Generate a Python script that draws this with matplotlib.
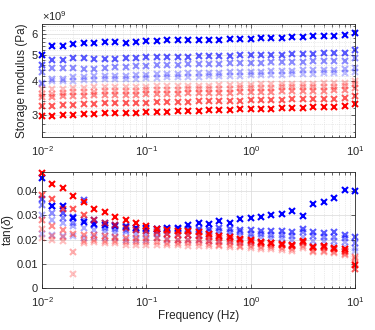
import numpy as np
import matplotlib
matplotlib.use("Agg")
import matplotlib.pyplot as plt
from matplotlib.ticker import FixedLocator, FuncFormatter, LogLocator, NullFormatter

plt.rcParams["font.family"] = ["Liberation Sans", "DejaVu Sans"]
plt.rcParams["mathtext.fontset"] = "custom"
plt.rcParams["mathtext.rm"] = "Liberation Sans"
plt.rcParams["mathtext.it"] = "Liberation Sans:italic"

# Frequencies (Hz), 10 points per decade
freq = [0.01, 0.0126, 0.0158, 0.02, 0.0251, 0.0316, 0.0398, 0.0501, 0.0631, 0.0794,
        0.1, 0.126, 0.158, 0.2, 0.251, 0.316, 0.398, 0.501, 0.631, 0.794,
        1.0, 1.26, 1.58, 2.0, 2.51, 3.16, 3.98, 5.01, 6.31, 7.94, 10.0]

# Storage modulus (x1e9 Pa), from blue (top) to red (bottom)
g_b1 = [5.0, 5.4, 5.4, 5.5, 5.55, 5.55, 5.6, 5.6, 5.55, 5.58, 5.62, 5.65, 5.66, 5.66, 5.67, 5.68,
        5.68, 5.70, 5.72, 5.72, 5.75, 5.76, 5.78, 5.80, 5.82, 5.84, 5.86, 5.88, 5.90, 5.92, 6.02]
g_b2 = [4.6, 4.8, 4.8, 4.87, 4.87, 4.85, 4.83, 4.85, 4.87, 4.88, 4.9, 4.92, 4.93, 4.93, 4.94, 4.95,
        4.96, 4.97, 4.98, 4.99, 5.0, 5.0, 5.01, 5.02, 5.03, 5.04, 5.06, 5.07, 5.08, 5.1, 5.2]
g_b3 = [4.35, 4.5, 4.5, 4.5, 4.43, 4.45, 4.5, 4.52, 4.53, 4.55, 4.57, 4.6, 4.6, 4.61, 4.62, 4.63,
        4.64, 4.65, 4.66, 4.67, 4.68, 4.69, 4.7, 4.71, 4.72, 4.73, 4.74, 4.75, 4.76, 4.77, 4.86]
g_b4 = [3.95, 4.1, 4.1, 4.15, 4.15, 4.18, 4.2, 4.2, 4.2, 4.22, 4.24, 4.25, 4.26, 4.27, 4.28, 4.29,
        4.3, 4.31, 4.32, 4.33, 4.34, 4.35, 4.36, 4.37, 4.38, 4.39, 4.4, 4.41, 4.42, 4.44, 4.5]
g_b5 = [3.9, 4.0, 4.0, 4.03, 4.05, 4.06, 4.08, 4.08, 4.1, 4.1, 4.12, 4.13, 4.14, 4.15, 4.16, 4.17,
        4.18, 4.19, 4.2, 4.2, 4.21, 4.22, 4.23, 4.24, 4.25, 4.26, 4.27, 4.28, 4.29, 4.3, 4.35]
g_r5 = [3.75, 3.75, 3.75, 3.78, 3.78, 3.8, 3.8, 3.8, 3.82, 3.82, 3.83, 3.84, 3.84, 3.85, 3.85, 3.86,
        3.86, 3.87, 3.88, 3.88, 3.89, 3.9, 3.9, 3.91, 3.92, 3.92, 3.93, 3.94, 3.94, 3.95, 4.0]
g_r4 = [3.6, 3.6, 3.62, 3.65, 3.65, 3.67, 3.68, 3.68, 3.7, 3.7, 3.71, 3.72, 3.72, 3.73, 3.74, 3.74,
        3.75, 3.76, 3.76, 3.77, 3.78, 3.78, 3.79, 3.8, 3.8, 3.81, 3.82, 3.82, 3.83, 3.84, 3.9]
g_r3 = [3.5, 3.52, 3.53, 3.55, 3.55, 3.56, 3.57, 3.57, 3.58, 3.58, 3.59, 3.6, 3.6, 3.61, 3.62, 3.62,
        3.63, 3.64, 3.64, 3.65, 3.66, 3.66, 3.67, 3.68, 3.68, 3.69, 3.7, 3.7, 3.71, 3.72, 3.78]
g_r2 = [3.25, 3.25, 3.27, 3.28, 3.3, 3.3, 3.32, 3.32, 3.33, 3.34, 3.34, 3.35, 3.36, 3.36, 3.37, 3.38,
        3.38, 3.39, 3.4, 3.4, 3.41, 3.42, 3.42, 3.43, 3.44, 3.44, 3.45, 3.46, 3.46, 3.48, 3.55]
g_r1 = [2.98, 2.98, 3.0, 3.02, 3.03, 3.04, 3.05, 3.06, 3.06, 3.07, 3.08, 3.09, 3.1, 3.11, 3.11, 3.12,
        3.13, 3.14, 3.15, 3.16, 3.17, 3.18, 3.18, 3.19, 3.2, 3.2, 3.21, 3.22, 3.23, 3.24, 3.3]

# tan(delta), same series order
t_b1 = [0.0455, 0.034, 0.034, 0.0288, 0.0275, 0.0265, 0.0262, 0.0258, 0.0252, 0.025, 0.025, 0.0245,
        0.0248, 0.025, 0.0261, 0.0268, 0.0266, 0.0276, 0.027, 0.0285, 0.0288, 0.0292, 0.030, 0.0307,
        0.032, 0.0296, 0.0346, 0.0357, 0.0372, 0.0407, 0.040]
t_b2 = [0.037, 0.034, 0.031, 0.0295, 0.0365, 0.028, 0.027, 0.026, 0.0255, 0.025, 0.0245, 0.0245,
        0.0245, 0.0245, 0.0245, 0.0245, 0.0245, 0.025, 0.0245, 0.024, 0.024, 0.0235, 0.0235, 0.0235,
        0.023, 0.0245, 0.023, 0.0228, 0.0232, 0.022, 0.0213]
t_b3 = [0.0345, 0.031, 0.029, 0.027, 0.028, 0.026, 0.025, 0.0245, 0.024, 0.024, 0.0235, 0.0235,
        0.0235, 0.0235, 0.0235, 0.0235, 0.0235, 0.0235, 0.023, 0.023, 0.0225, 0.0225, 0.022, 0.022,
        0.0215, 0.023, 0.0215, 0.021, 0.021, 0.0205, 0.0185]
t_b4 = [0.030, 0.028, 0.027, 0.0255, 0.025, 0.024, 0.0235, 0.023, 0.023, 0.0225, 0.0225, 0.0225,
        0.0225, 0.0225, 0.022, 0.022, 0.022, 0.022, 0.0215, 0.0215, 0.021, 0.021, 0.0205, 0.0205,
        0.02, 0.021, 0.0195, 0.0195, 0.0195, 0.019, 0.0165]
t_b5 = [0.0225, 0.022, 0.0215, 0.0215, 0.0205, 0.021, 0.0205, 0.0205, 0.02, 0.02, 0.02, 0.0205,
        0.02, 0.02, 0.02, 0.02, 0.0195, 0.0195, 0.0195, 0.019, 0.019, 0.019, 0.0185, 0.0185,
        0.018, 0.019, 0.0175, 0.0175, 0.0175, 0.017, 0.0155]
t_r5 = [0.0205, 0.02, 0.0195, 0.006, 0.0185, 0.019, 0.0185, 0.0185, 0.018, 0.018, 0.018, 0.018,
        0.0178, 0.0178, 0.0175, 0.0175, 0.0172, 0.0172, 0.017, 0.0168, 0.0165, 0.0162, 0.016, 0.0158,
        0.0155, 0.0165, 0.015, 0.0148, 0.0145, 0.0135, 0.0105]
t_r4 = [0.0245, 0.0215, 0.021, 0.015, 0.0195, 0.02, 0.0195, 0.0195, 0.019, 0.019, 0.019, 0.019,
        0.0188, 0.0188, 0.0185, 0.0185, 0.0182, 0.018, 0.0178, 0.0175, 0.0172, 0.017, 0.0168, 0.0165,
        0.016, 0.0172, 0.0155, 0.0155, 0.015, 0.0142, 0.012]
t_r3 = [0.028, 0.0255, 0.024, 0.0225, 0.022, 0.022, 0.0215, 0.021, 0.0208, 0.0205, 0.0205, 0.0205,
        0.0202, 0.02, 0.02, 0.0198, 0.0195, 0.0192, 0.019, 0.0188, 0.0185, 0.0182, 0.018, 0.0178,
        0.0172, 0.0185, 0.0165, 0.0165, 0.016, 0.015, 0.013]
t_r2 = [0.0385, 0.037, 0.0325, 0.0325, 0.030, 0.028, 0.027, 0.026, 0.025, 0.024, 0.0235, 0.023,
        0.0225, 0.022, 0.022, 0.0215, 0.021, 0.0205, 0.0202, 0.0198, 0.0195, 0.0188, 0.0185, 0.018,
        0.0175, 0.019, 0.017, 0.0168, 0.016, 0.0152, 0.0078]
t_r1 = [0.0475, 0.043, 0.0415, 0.038, 0.0355, 0.0325, 0.0315, 0.0295, 0.028, 0.027, 0.0258, 0.0245,
        0.024, 0.0235, 0.0236, 0.023, 0.0223, 0.0215, 0.021, 0.0203, 0.0198, 0.019, 0.0188, 0.0183,
        0.0176, 0.0195, 0.0168, 0.0174, 0.0165, 0.016, 0.0095]

storage = [g_b1, g_b2, g_b3, g_b4, g_b5, g_r5, g_r4, g_r3, g_r2, g_r1]
tand = [t_b1, t_b2, t_b3, t_b4, t_b5, t_r5, t_r4, t_r3, t_r2, t_r1]
series_color = ["blue"] * 5 + ["red"] * 5
series_alpha = [1.0, 0.65, 0.45, 0.32, 0.25, 0.25, 0.32, 0.45, 0.65, 1.0]

fig = plt.figure(figsize=(3.75, 3.3), dpi=100)
ax1 = fig.add_axes([0.112, 0.585, 0.835, 0.342])
ax2 = fig.add_axes([0.112, 0.127, 0.835, 0.352])

f = np.array(freq)
for g, c, a in zip(storage, series_color, series_alpha):
    ax1.plot(f, np.array(g) * 1e9, "x", color=c, alpha=a, ms=3.8, mew=1.5, clip_on=False)
for t, c, a in zip(tand, series_color, series_alpha):
    ax2.plot(f, t, "x", color=c, alpha=a, ms=3.8, mew=1.5, clip_on=False)

for ax in (ax1, ax2):
    ax.set_xscale("log")
    ax.set_xlim(0.01, 10)
    ax.xaxis.set_major_locator(LogLocator(base=10, numticks=10))
    ax.xaxis.set_minor_locator(LogLocator(base=10, subs=np.arange(2, 10), numticks=20))
    ax.xaxis.set_minor_formatter(NullFormatter())
    ax.tick_params(which="both", direction="in", top=True, right=True, labelsize=8,
                   color="#262626", labelcolor="#262626", pad=3)
    ax.tick_params(axis="x", which="both", pad=5)
    ax.tick_params(which="major", length=3, width=0.5)
    ax.tick_params(which="minor", length=1.8, width=0.5)
    ax.grid(True, which="major", color="#d9d9d9", lw=0.5)
    ax.grid(True, which="minor", axis="x", color="#d9d9d9", lw=0.5, ls=":")
    for s in ax.spines.values():
        s.set_color("#262626")
        s.set_linewidth(0.6)
    ax.set_axisbelow(True)

# upper panel: log y axis with plain labels and a x10^9 multiplier
ax1.set_yscale("log")
ax1.set_ylim(2.5e9, 6.5e9)
ax1.yaxis.set_major_locator(FixedLocator([3e9, 4e9, 5e9, 6e9]))
ax1.yaxis.set_major_formatter(FuncFormatter(lambda v, p: f"{v / 1e9:.0f}"))
minor_y = [v * 1e9 for v in np.arange(2.6, 6.45, 0.2) if abs(v - round(v)) > 0.05]
ax1.yaxis.set_minor_locator(FixedLocator(minor_y))
ax1.yaxis.set_minor_formatter(NullFormatter())
ax1.grid(True, which="minor", axis="y", color="#d9d9d9", lw=0.5, ls=":")
ax1.set_ylabel("Storage modulus (Pa)", fontsize=8.5, color="#262626")
ax1.yaxis.set_label_coords(-0.045, 0.5)
ax1.text(0.0, 1.01, r"$\times10^{9}$", transform=ax1.transAxes, fontsize=8,
         color="#262626", ha="left", va="bottom")

# lower panel
ax2.set_ylim(0, 0.048)
ax2.set_yticks([0, 0.01, 0.02, 0.03, 0.04])
ax2.set_yticklabels(["0", "0.01", "0.02", "0.03", "0.04"])
ax2.set_ylabel(r"tan($\delta$)", fontsize=8.5, color="#262626")
ax2.yaxis.set_label_coords(-0.084, 0.5)
ax2.set_xlabel("Frequency (Hz)", fontsize=8.5, color="#262626", labelpad=1)

fig.savefig("out.png", dpi=100)
